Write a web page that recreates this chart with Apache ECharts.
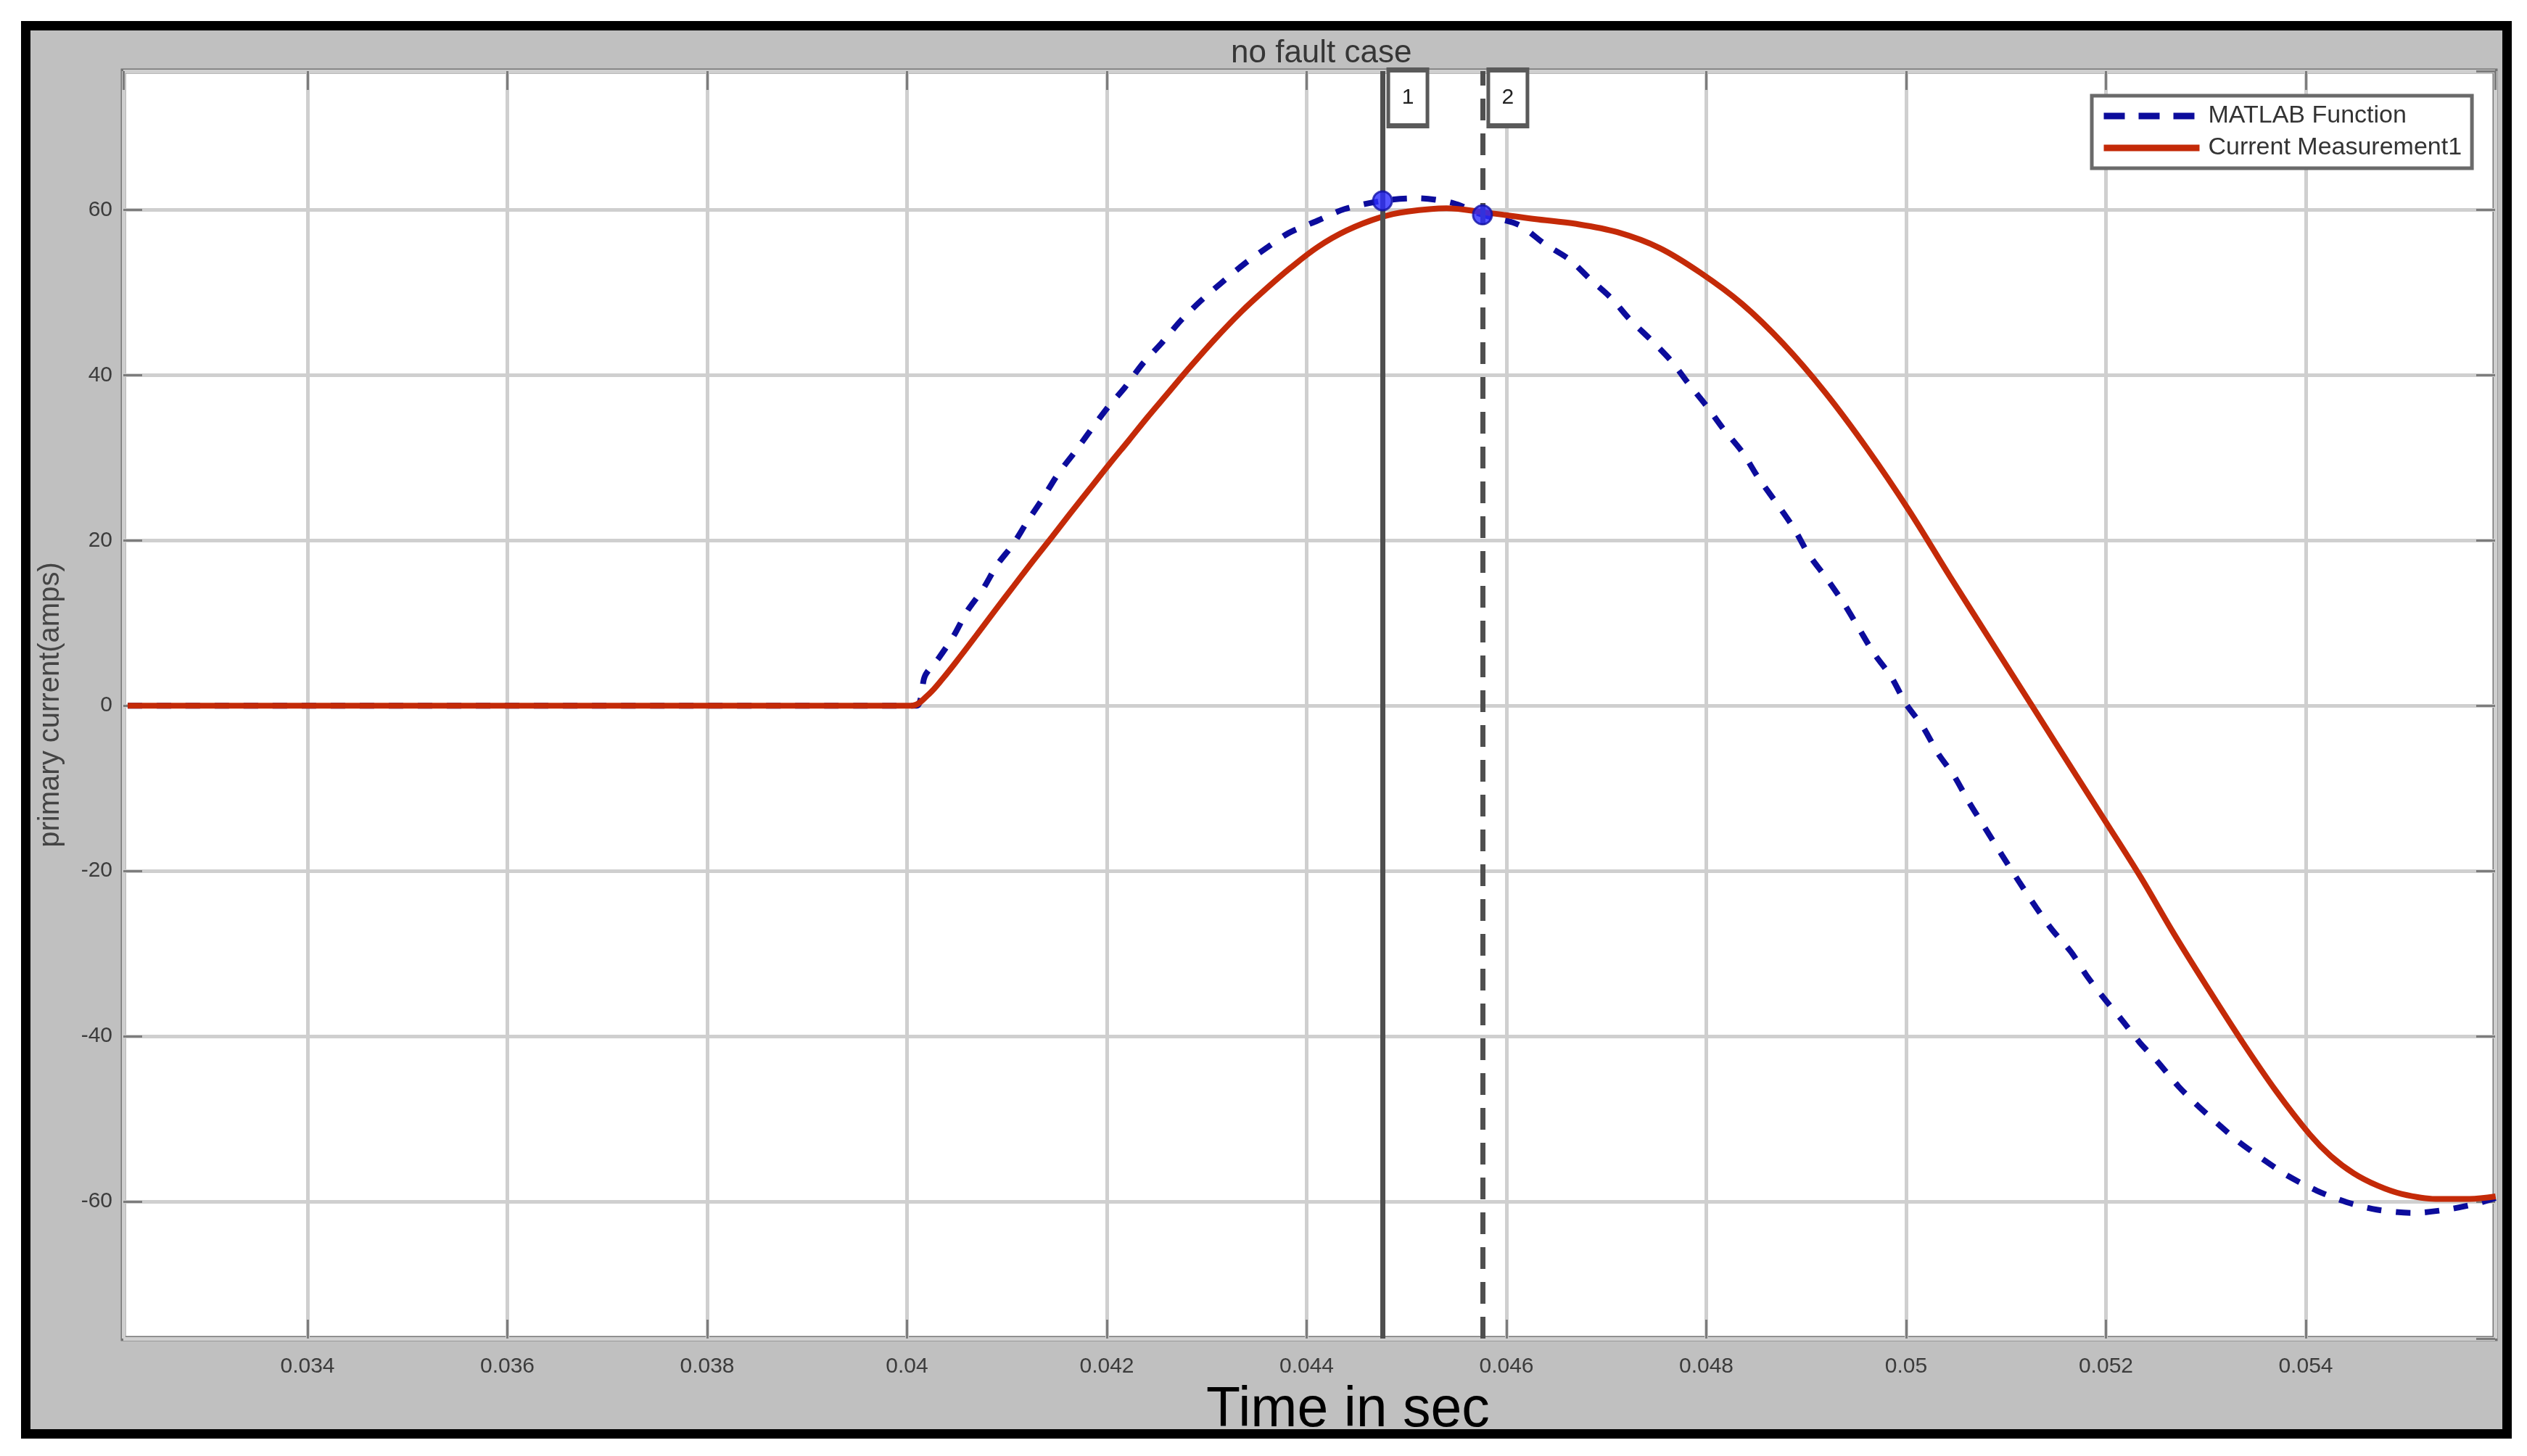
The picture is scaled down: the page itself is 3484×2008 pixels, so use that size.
<!DOCTYPE html>
<html>
<head>
<meta charset="utf-8">
<script src="https://cdn.jsdelivr.net/npm/echarts@6/dist/echarts.min.js"></script>
<style>
html,body{margin:0;padding:0;background:#fff;}
#chart{width:3484px;height:2008px;}
</style>
</head>
<body>
<div id="chart"></div>
<script>
// ---- data ----
const titleText = 'no fault case';
const xAxisName = 'Time in sec';
const yAxisName = 'primary current(amps)';
const seriesNames = ['MATLAB Function', 'Current Measurement1'];

// axis limits (MATLAB zoomed view)
const xMin = 0.032156, xMax = 0.055895;
const yMin = -76.6, yMax = 76.8;

// MATLAB Function (blue dashed)
const blueT = [0.0322, 0.0398, 0.0401, 0.04014, 0.04018, 0.04032, 0.04047, 0.04060, 0.04076, 0.04090, 0.04106,
  0.04120, 0.04136, 0.04151, 0.04168, 0.04183, 0.04201, 0.04218, 0.04236, 0.04255, 0.04274,
  0.04295, 0.04315, 0.04338, 0.04361, 0.04382, 0.04411, 0.04438, 0.04476, 0.04511, 0.04547,
  0.04576, 0.04612, 0.04638, 0.04663, 0.04683, 0.04705, 0.04723, 0.04746, 0.04765, 0.04782,
  0.04800, 0.04817, 0.04836, 0.04852, 0.04871, 0.04888, 0.04902, 0.04921, 0.04938, 0.04952,
  0.04968, 0.04985, 0.05000, 0.05017, 0.05032, 0.05048, 0.05063, 0.05079, 0.05096, 0.05113,
  0.05130, 0.05146, 0.05165, 0.05182, 0.05200, 0.05217, 0.05234, 0.05251, 0.05272, 0.05290,
  0.05311, 0.05333, 0.05356, 0.05382, 0.05411, 0.05441, 0.05471, 0.05507, 0.05541, 0.05570, 0.05590];
const blueV = [0, 0, 0, 1.0, 3.6, 5.8, 8.5, 11.4, 14.1, 17.0, 19.5,
  22.2, 25.1, 28.0, 30.7, 33.2, 36.1, 38.5, 41.4, 43.9, 46.6,
  49.1, 51.2, 53.5, 55.5, 57.2, 58.7, 60.1, 61.1, 61.4, 60.8,
  59.4, 58.2, 55.9, 54.0, 51.7, 49.3, 46.8, 44.1, 41.7, 39.0,
  36.3, 33.5, 30.7, 27.6, 24.4, 21.4, 18.4, 15.3, 12.3, 9.5,
  6.3, 3.5, 0.2, -2.6, -5.8, -8.5, -11.7, -14.8, -18.1, -21.3,
  -24.4, -27.1, -29.8, -32.9, -35.7, -38.2, -40.8, -43.0, -46.0, -48.2,
  -50.5, -52.8, -54.8, -56.9, -58.7, -60.1, -61.0, -61.4, -61.0, -60.3, -59.6];

// Current Measurement1 (red solid)
const redT = [0.0322, 0.0398, 0.04005, 0.04022, 0.04036, 0.04053, 0.04070, 0.04088, 0.04107, 0.04126, 0.04145,
  0.04163, 0.04184, 0.04203, 0.04222, 0.04240, 0.04261, 0.04282, 0.04307, 0.04334, 0.04359,
  0.04384, 0.04411, 0.04440, 0.04474, 0.04501, 0.04540, 0.04578, 0.04628, 0.04670, 0.04711,
  0.04753, 0.04794, 0.04836, 0.04877, 0.04919, 0.04961, 0.05003, 0.05044, 0.05086, 0.05128,
  0.05170, 0.05200, 0.05235, 0.05268, 0.05302, 0.05336, 0.05370, 0.05404, 0.05425, 0.05448,
  0.05472, 0.05496, 0.05530, 0.05564, 0.05590];
const redV = [0, 0, 0, 1.4, 3.3, 5.9, 8.6, 11.5, 14.5, 17.5, 20.4,
  23.2, 26.4, 29.3, 32.1, 34.8, 37.8, 40.8, 44.2, 47.6, 50.4,
  53.0, 55.5, 57.5, 59.1, 59.8, 60.2, 59.7, 58.9, 58.3, 57.3,
  55.4, 52.4, 48.6, 43.8, 37.9, 31.1, 23.6, 15.6, 7.6, -0.4,
  -8.4, -14.1, -20.8, -27.6, -34.2, -40.6, -46.6, -51.9, -54.5, -56.6,
  -58.1, -59.1, -59.7, -59.7, -59.4];

// data cursors
const cursorLabels = ['1', '2'];
const cursorT = [0.044759, 0.04576];
const cursorV = [61.1, 59.4];

const zip = (a, b) => a.map((v, i) => [v, b[i]]);

const chart = echarts.init(document.getElementById('chart'), null, {renderer: 'canvas'});

const FONT = 'Liberation Sans, Arial, sans-serif';
const BLUE = '#0c0c9c', RED = '#c42a08';
const tickStyle = {show: true, inside: true, length: 26, lineStyle: {color: '#7c7c7c', width: 3}};

function cursorSeries(i, lineType, width) {
  return {
    name: 'cursor' + cursorLabels[i], type: 'line', data: [], z: 4,
    markLine: {silent: true, precision: 6, symbol: ['none', 'none'], label: {show: false},
      lineStyle: {color: '#4f4f4f', width: width, type: lineType},
      data: [[{coord: [cursorT[i], yMin]}, {coord: [cursorT[i], yMax]}]]},
    markPoint: {silent: true, symbol: 'rect', symbolSize: [54, 77], symbolOffset: [35, 37],
      itemStyle: {color: '#ffffff', borderColor: '#5a5a5a', borderWidth: 6},
      label: {show: true, formatter: cursorLabels[i], color: '#222', fontSize: 30, fontFamily: FONT},
      data: [{coord: [cursorT[i], yMax]}]}
  };
}

const option = {
  animation: false,
  backgroundColor: '#ffffff',
  graphic: [{
    type: 'rect', z: -100, silent: true,
    shape: {x: 35.5, y: 35.5, width: 3421, height: 1942},
    style: {fill: '#c0c0c0', stroke: '#000000', lineWidth: 13}
  }],
  title: [{
    text: titleText, left: 1692, top: 47,
    textStyle: {fontFamily: FONT, fontSize: 44, fontWeight: 'normal', color: '#363636'}
  }, {
    text: xAxisName, left: 1658, top: 1902,
    textStyle: {fontFamily: FONT, fontSize: 77, fontWeight: 'normal', color: '#000000'}
  }],
  legend: {
    data: [
      {name: seriesNames[0], lineStyle: {type: [29, 19], width: 9, color: BLUE}, itemStyle: {opacity: 0}},
      {name: seriesNames[1], lineStyle: {type: 'solid', width: 9, color: RED}, itemStyle: {opacity: 0}}
    ],
    left: 2884, top: 132, orient: 'vertical',
    backgroundColor: '#ffffff', borderColor: '#6a6a6a', borderWidth: 5, borderRadius: 0,
    padding: [10, 14, 10, 12], itemWidth: 132, itemHeight: 16, itemGap: 8,
    textStyle: {fontFamily: FONT, fontSize: 34, color: '#333333', padding: [0, 0, 0, 7], lineHeight: 36}
  },
  grid: {
    left: 170, top: 98, right: 44, bottom: 162,
    show: true, backgroundColor: '#ffffff', borderColor: '#747474', borderWidth: 7
  },
  xAxis: [{
    type: 'value', min: xMin, max: xMax, splitNumber: 12,
    axisLine: {show: false, onZero: false},
    axisTick: tickStyle,
    axisLabel: {showMinLabel: false, showMaxLabel: false, margin: 24,
      fontFamily: FONT, fontSize: 30, color: '#3c3c3c'},
    splitLine: {show: true, lineStyle: {color: '#cfcfcf', width: 5}}
  }, {
    type: 'value', position: 'top', min: xMin, max: xMax, splitNumber: 12,
    axisLine: {show: false, onZero: false}, axisTick: tickStyle, axisLabel: {show: false}, splitLine: {show: false}
  }],
  yAxis: [{
    type: 'value', min: yMin, max: yMax, splitNumber: 7,
    name: yAxisName, nameLocation: 'middle', nameGap: 80,
    nameTextStyle: {fontFamily: FONT, fontSize: 40, color: '#444444'},
    axisLine: {show: false, onZero: false},
    axisTick: tickStyle,
    axisLabel: {showMinLabel: false, showMaxLabel: false, margin: 15,
      fontFamily: FONT, fontSize: 30, color: '#3c3c3c'},
    splitLine: {show: true, lineStyle: {color: '#cfcfcf', width: 5}}
  }, {
    type: 'value', position: 'right', min: yMin, max: yMax, splitNumber: 7,
    axisLine: {show: false, onZero: false}, axisTick: tickStyle, axisLabel: {show: false}, splitLine: {show: false}
  }],
  series: [{
    name: seriesNames[0], type: 'line', data: zip(blueT, blueV),
    showSymbol: false, symbol: 'none', z: 2, smooth: 0.3,
    lineStyle: {color: BLUE, width: 8, type: [20, 20]},
    itemStyle: {color: BLUE}
  }, {
    name: seriesNames[1], type: 'line', data: zip(redT, redV),
    showSymbol: false, symbol: 'none', z: 3, smooth: 0.35,
    lineStyle: {color: RED, width: 8},
    itemStyle: {color: RED}
  },
  cursorSeries(0, 'solid', 7),
  cursorSeries(1, [30, 18], 7),
  {
    name: 'cursorPoints', type: 'scatter', data: zip(cursorT, cursorV), z: 6,
    symbol: 'circle', symbolSize: 26,
    itemStyle: {color: '#2a2aff', borderColor: '#1010a8', borderWidth: 3}
  }]
};
chart.setOption(option);
</script>
</body>
</html>
